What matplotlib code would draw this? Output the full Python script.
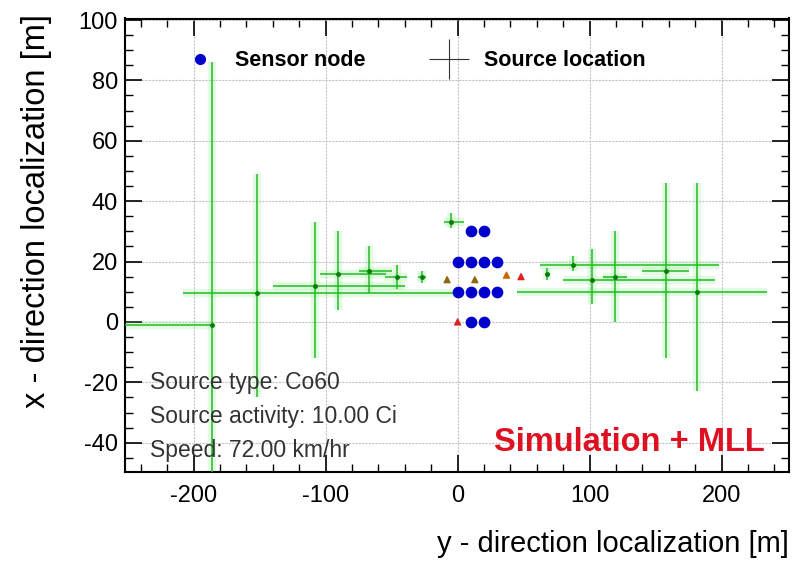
import matplotlib.pyplot as plt
from matplotlib.lines import Line2D
import numpy as np

plt.rcParams['font.family'] = ['Liberation Sans', 'DejaVu Sans']
plt.rcParams['axes.unicode_minus'] = False

# sensor nodes
sensor_x = [10, 20, 0, 10, 20, 30, 0, 10, 20, 30, 10, 20]
sensor_y = [30, 30, 20, 20, 20, 20, 10, 10, 10, 10, 0, 0]

# reconstructed source locations with asymmetric errors
src_x = [-186, -152, -108, -91, -67, -46, -27, -5, 68, 87, 102, 119, 158, 181]
src_y = [-1, 9.5, 12, 16, 17, 15, 15, 33, 16, 19, 14, 15, 17, 10]
x_low = [-260, -208, -140, -104, -75, -55, -30, -10, 66, 62, 80, 110, 140, 45]
x_high = [-186, 0, -40, -54, -50, -38, -24, 5, 70, 198, 195, 128, 175, 234]
y_low = [-60, -25, -12, 4, 9.5, 11, 13, 31, 14, 17, 6, 0, -12, -23]
y_high = [86, 49, 33, 30, 25, 19, 17, 36, 18, 22, 24, 30, 46, 46]

# true positions
true_x = [-8, 13, 37, 48, 0]
true_y = [14, 14, 15.5, 15, 0]
true_c = ['#8b6914', '#8b6914', '#cc6600', '#dd2222', '#dd2222']

fig = plt.figure(figsize=(7.94, 5.63), dpi=100)
ax = fig.add_axes([125 / 794, 1 - 472 / 563, 664 / 794, 453.5 / 563])

src_x = np.array(src_x, float)
src_y = np.array(src_y, float)
xerr = [src_x - np.array(x_low), np.array(x_high) - src_x]
yerr = [src_y - np.array(y_low), np.array(y_high) - src_y]

# soft halo
ax.errorbar(src_x, src_y, xerr=xerr, yerr=yerr, fmt='none', ecolor='#66ee66',
            elinewidth=6, alpha=0.18, capsize=0, zorder=2)
ax.errorbar(src_x, src_y, xerr=xerr, yerr=yerr, fmt='o', ms=2.5, color='#117711',
            ecolor='#22bb22', elinewidth=1.1, capsize=0, zorder=3)

ax.scatter(sensor_x, sensor_y, s=55, color='#0000cc', zorder=5)
ax.scatter(true_x, true_y, s=18, marker='^', c=true_c, zorder=4)

ax.set_xlim(-252, 251)
ax.set_ylim(-49.7, 100.5)
ax.set_xticks([-200, -100, 0, 100, 200])
ax.set_xticks(np.arange(-240, 241, 20), minor=True)
ax.set_yticks(np.arange(-40, 101, 20))
ax.set_yticks(np.arange(-45, 101, 5), minor=True)
ax.grid(True, color='#c4c4c4', lw=0.8, ls=(0, (2, 1)))
ax.tick_params(which='both', direction='in', top=True, right=True, labelsize=17)
ax.tick_params(axis='x', pad=9)
ax.tick_params(axis='y', pad=5)
ax.tick_params(which='major', length=12, width=1.2)
ax.tick_params(which='minor', length=6, width=1.0)
for s in ax.spines.values():
    s.set_linewidth(1.5)

ax.set_xlabel('y - direction localization [m]', fontsize=21, loc='right')
ax.xaxis.set_label_coords(1.0, -0.128)
ax.set_ylabel('x - direction localization [m]', fontsize=23.5, loc='top')
ax.yaxis.set_label_coords(-0.11, 1.01)

handles = [Line2D([], [], ls='none', marker='o', ms=7, color='#0000cc'),
           Line2D([], [], ls='none', marker='+', ms=29, mew=0.8, color='#333333')]
ax.legend(handles, ['Sensor node', 'Source location'], ncol=2, frameon=False,
          loc='upper left', bbox_to_anchor=(0.08, 0.93), borderaxespad=0,
          borderpad=0, handlelength=2, handletextpad=0.63, columnspacing=2.9,
          prop={'weight': 'bold', 'size': 15.5})

info = ['Source type: Co60', 'Source activity: 10.00 Ci', 'Speed: 72.00 km/hr']
for i, t in enumerate(info):
    ax.text(0.038, 0.198 - i * 0.075, t, transform=ax.transAxes, fontsize=16.5,
            color='#333333', va='center')

ax.text(0.964, 0.066, 'Simulation + MLL', transform=ax.transAxes, fontsize=23.5,
        color='#dd1122', fontweight='bold', ha='right', va='center')

fig.savefig('out.png', dpi=100)
